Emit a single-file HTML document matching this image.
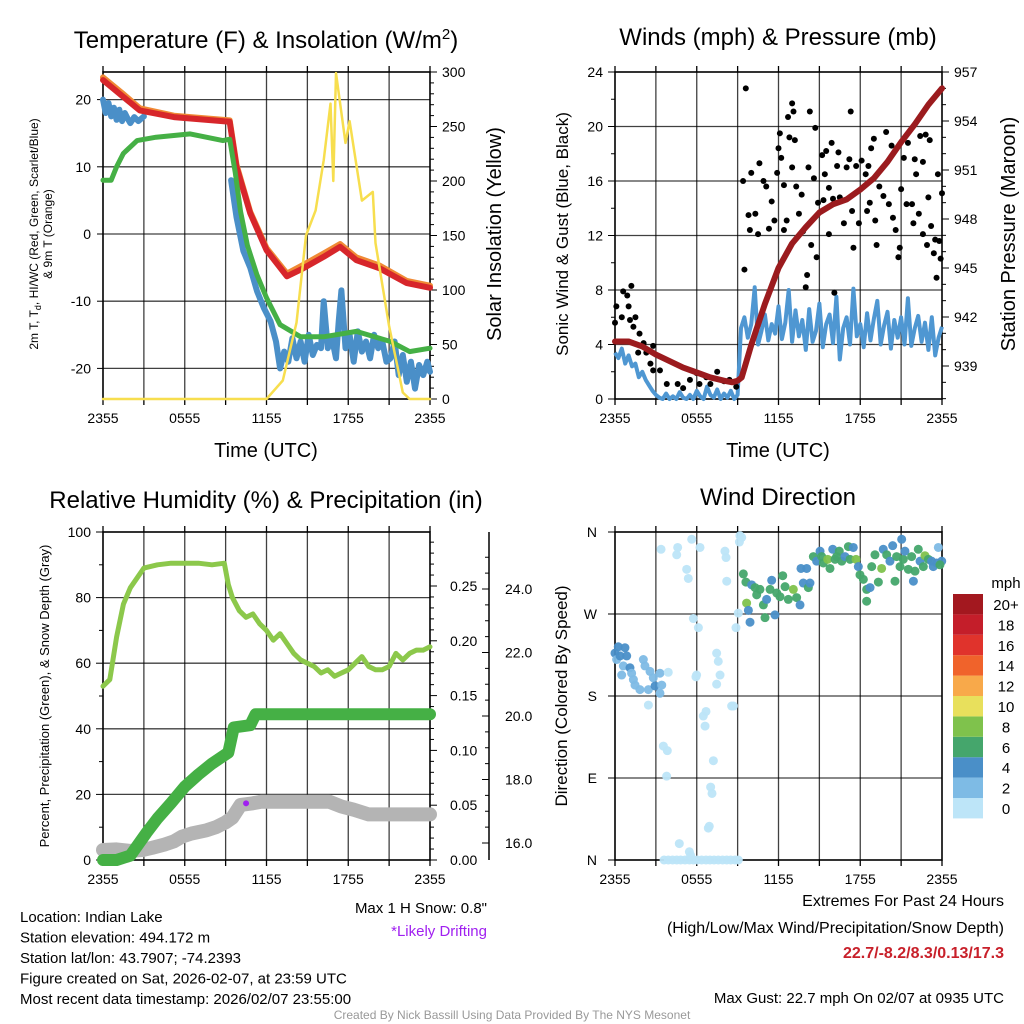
<!DOCTYPE html>
<html><head><meta charset="utf-8"><style>
body{margin:0;background:#fff;}
svg{display:block;font-family:"Liberation Sans",Arial,sans-serif;}
</style></head><body>
<svg id="c" width="1024" height="1024" viewBox="0 0 1024 1024" xmlns="http://www.w3.org/2000/svg"></svg>
<script>
// ---------- DATA ----------
const tempHours=[0,1.5,2.7,5.2,9.3,9.8,10.8,12,13.5,14.7,16.2,17.4,18.6,20.3,22.3,24];
const tempRed=[22.9,20.4,18.4,17.4,16.7,10,3.1,-2.4,-6.3,-5.1,-3.4,-1.9,-3.9,-5.1,-7.3,-8];
const tempOrange=[23.3,20.8,18.7,17.6,16.9,10.3,3.3,-2.1,-5.9,-4.6,-2.9,-1.5,-3.5,-4.7,-7,-7.7];
const dewHours=[0,0.6,1.0,1.5,2.5,3.9,6.4,8.8,9.3,9.7,10.1,10.6,11.3,12,13,14.5,16.2,18.6,21.1,22.5,24];
const dewGreen=[8,8,10,12,13.9,14.4,14.9,13.9,14.1,9.2,3.3,-1.7,-6.1,-9.5,-13.5,-15.3,-15.3,-14.5,-16,-17.5,-17];
const wcHoursA=[0,0.2,0.4,0.6,0.8,1.0,1.2,1.4,1.6,1.8,2.0,2.3,2.6,3.0];
const wcBlueA=[20,18,19.5,17.5,18.8,17,18.5,16.8,18,17.2,16.5,17.4,16.8,17.5];
const wcHoursB=[9.4,9.8,10.3,10.8,11.3,11.8,12.3,12.7,13,13.3,13.6,13.9,14.2,14.5,14.8,15.1,15.4,15.7,16,16.2,16.5,16.8,17.1,17.3,17.5,17.8,18.1,18.4,18.7,19,19.3,19.6,19.9,20.2,20.5,20.8,21.1,21.4,21.7,22,22.3,22.6,22.9,23.2,23.5,23.8,24];
const wcBlueB=[8,2.5,-2.5,-5,-8.5,-11,-13,-16,-20,-17.5,-19,-15.5,-18.5,-16,-19,-15,-18,-16.5,-17,-10,-17,-15.5,-18.5,-13,-8.4,-17,-15,-19,-14.5,-17.5,-16,-18.5,-15,-17,-16,-19,-18.5,-16,-21,-18,-22,-19,-23,-19.5,-21,-19,-20.5];
const solHours=[0,12,13.2,14.2,14.9,15.6,16.2,16.7,16.9,17.1,17.8,18.1,19,19.8,20,21,22,22.5,24];
const solar=[0,0,17,70,150,173,219,271,200,299,235,255,182,190,143,67,6,0,0];

const sonic=[3.4,3.0,3.7,2.6,3.2,2.4,2.6,1.6,2.0,1.4,1.0,0.6,0.3,
0.1,0,0.4,0,0.2,0,0.5,0.1,0,0.3,0,0.6,0.2,0,0.9,0.3,0.1,0.7,0,0.4,0.1,0.6,0,0.3,
5.2,6.0,4.5,5.5,8.2,4.0,5.0,6.2,4.3,5.5,4.8,6.8,4.4,5.6,8.0,4.2,6.5,4.6,5.8,3.6,6.6,4.2,5.0,7.0,3.8,5.5,6.2,4.1,7.5,2.9,5.2,6.0,4.0,8.1,4.6,5.5,3.8,6.3,4.3,5.9,7.2,4.0,5.4,6.4,3.7,5.8,4.5,6.0,4.0,7.4,3.9,5.2,6.1,4.2,5.6,3.6,6.0,3.2,4.5,5.3];
const gustHours=[0,0.1,0.5,0.6,0.9,1.2,1.0,1.1,1.35,1.5,2.1,2.3,2.8,2.6,3.3,3.8,4.6,5.5,6.0,6.2,6.7,7.5,8.0,8.4,8.9,1.8,1.7,2.8,5.0,7.0,
9.6,9.5,9.4,9.8,9.9,10.0,10.3,10.5,10.6,10.9,11.1,11.3,11.5,11.7,11.9,12.0,12.1,12.2,12.4,12.4,12.6,12.7,12.8,13.0,13.0,13.1,13.2,13.3,13.5,13.7,13.8,14.0,14.1,14.2,14.3,14.4,14.6,14.7,14.8,14.9,15.2,15.3,15.4,15.5,15.7,15.7,15.9,16.0,16.1,16.3,16.4,16.5,16.8,17.0,17.2,17.3,17.4,17.5,17.7,17.9,18.1,18.4,18.5,18.6,18.7,18.8,19.0,19.1,19.2,19.4,19.7,19.9,20.1,20.3,20.4,20.6,20.8,20.9,21.0,21.2,21.4,21.5,21.8,21.9,22.0,22.1,22.3,22.4,22.6,22.6,22.8,22.9,23.0,23.1,23.2,23.4,23.5,23.6,23.7,23.8,23.9,24.0];
const gustValues=[5.6,6.8,6.0,7.9,7.6,8.3,6.8,5.8,5.3,6.0,4.1,3.4,3.9,2.6,2.1,1.1,1.1,1.4,1.9,1.1,1.6,2.0,1.3,1.4,0.9,4.8,3.4,2.1,0.8,1.1,
22.8,9.5,16.0,13.5,12.4,16.6,13.6,12.1,17.3,16.0,15.6,12.5,14.5,13.1,16.6,18.4,19.5,17.7,15.7,12.4,13.1,20.7,19.2,17.0,21.7,21.1,19.0,15.6,13.6,15.0,12.3,8.2,9.1,17.0,21.1,11.3,16.2,19.9,10.4,14.4,17.9,14.6,16.5,18.2,15.5,12.1,18.8,14.7,7.8,17.1,18.1,14.8,12.9,17.0,17.6,21.1,13.8,11.1,17.1,12.9,17.5,16.5,13.8,17.1,14.4,18.4,19.1,13.1,11.3,15.6,14.9,19.6,14.3,18.6,13.3,12.4,10.4,11.1,15.4,17.7,14.3,18.8,14.3,12.9,17.6,16.5,13.6,19.3,17.4,12.1,19.4,11.3,14.8,19.0,12.7,10.7,11.7,8.9,16.5,11.6,10.3,15.1];
const presHours=[0,1,2,3,4,5,6,7,8,8.6,9,9.3,10,11,12,13,14,15,16,17,18,19,20,21,22,23,24];
const pressure=[940.5,940.5,940.2,939.7,939.3,938.9,938.6,938.3,938.1,938,938.1,938.3,940.3,942.8,945,946.5,947.5,948.4,948.9,949.2,949.8,950.5,951.5,952.7,953.8,955,956];

const rhHours=[0,0.5,1,1.5,2,2.5,3,4,5,6,7,8,8.9,9.2,9.5,10,10.5,11,11.5,12,12.5,13,13.5,14,14.5,15,15.5,16,16.5,17,17.5,18,18.5,19,19.5,20,20.5,21,21.5,22,22.5,23,23.5,24];
const rh=[53,55,68,78,83,86,89,90,90.5,90.5,90.5,90,90.5,84,80,76,74,75,72,70,67,69,66,63,61,60,59,57,58,56,57,58,60,62,59,58,58,59,63,61,63,64,64,65];
const precipHours=[0,1,2,3.2,4,5,6,7,8,9.2,9.6,10.8,11.2,24];
const precip=[0,0,0.004,0.025,0.038,0.052,0.067,0.078,0.088,0.098,0.121,0.123,0.133,0.133];
const snowHours=[0,1,2,2.9,3.6,4.5,5.2,5.8,6.5,7.6,8.3,9,9.5,10.1,11,11.6,14,16.6,17.5,18.4,19.5,24];
const snow=[15.78,15.8,15.75,15.78,15.85,15.95,16.05,16.2,16.3,16.4,16.5,16.65,16.8,17.2,17.25,17.3,17.3,17.3,17.15,17.05,16.9,16.9];

const dirHours=[];const dirValues=[];const dirSpeeds=[];
const dirRaw=[[45,400,4],[50,420,3],[55,380,4],[60,410,4],[75,385,5],[80,410,4],[70,440,3],[90,445,4],[65,465,3],[95,460,3],[100,480,3],[105,495,3],[120,510,3],[130,420,3],[135,440,2],[145,510,2],[150,455,2],[160,475,3],[165,500,4],[180,460,2],[185,495,2],[205,458,1],[180,520,2],[145,555,1],
[183,88,1],[233,85,1],[230,105,1],[275,58,1],[300,85,1],[260,150,1],[265,178,1],[280,298,1],[295,325,1],[290,465,1],[288,472,1],[200,770,1],[190,680,1],[202,692,1],[310,590,1],[318,575,1],[315,620,1],[340,722,1],[332,802,1],[336,820,1],[328,920,1],[325,925,1],[238,972,1],[268,995,1],[350,400,1],[355,425,1],[360,467,1],[350,493,1],[375,96,1],[378,113,1],[380,186,1],[395,558,1],[400,560,1],[408,324,1],[415,280,1],[420,48,1],[425,55,1],[418,68,1],
[192,1020,1],[205,1020,1],[218,1020,1],[230,1020,1],[242,1020,1],[255,1020,1],[268,1020,1],[280,1020,1],[292,1020,1],[305,1020,1],[318,1020,1],[330,1020,1],[342,1020,1],[355,1020,1],[368,1020,1],[380,1020,1],[392,1020,1],[405,1020,1],[415,1020,1],[272,1005,1],
[430,163,6],[438,188,6],[440,250,8],[445,272,4],[450,307,4],[455,195,5],[465,205,6],[470,225,6],[480,210,6],[490,255,6],[495,295,6],[500,240,4],[510,210,6],[515,183,4],[525,285,4],[530,220,6],[540,230,6],[548,168,6],[555,200,6],[565,240,6],[580,210,8],[590,235,6],[600,255,4],[603,147,4],[620,147,4],[610,190,4],[625,205,6],[630,190,4],[640,110,6],[650,125,4],[660,95,4],[665,110,6],[670,130,6],[683,118,8],[690,148,6],[698,88,4],[705,120,6],[710,110,6],[718,95,6],[725,125,6],[735,110,4],[745,80,6],[750,120,6],[760,85,4],[768,118,8],[775,140,4],[780,165,6],[790,180,6],[800,210,6],[810,205,4],[800,245,6],[815,140,6],[825,105,6],[835,188,6],[845,148,8],[850,90,4],[860,105,6],[870,125,4],[878,78,4],[885,185,6],[890,110,6],[900,140,6],[905,60,4],[910,120,6],[915,95,4],[925,150,6],[935,110,6],[940,185,4],[945,155,6],[955,88,6],[960,125,4],[970,140,6],[975,108,8],[985,120,6],[995,125,4],[1000,140,4],[1010,130,4],[1015,85,2],[1025,125,4],[1020,135,6]];
for(const r of dirRaw){dirHours.push(+((r[0]/3-15)/13.625).toFixed(2));dirValues.push(Math.round((340-r[1]/3)*1.0992));dirSpeeds.push(r[2]);}

const timeTicks=["2355","0555","1155","1755","2355"];
const speedBins=["0","2","4","6","8","10","12","14","16","18","20+"];
const binColors=["#bde5f8","#7ebbe5","#4a8fc8","#45a66c","#7fc24c","#e8e05c","#f8a94a","#f0632b","#e0332c","#c41e2a","#a3181f"];

// ---------- HELPERS ----------
const NS="http://www.w3.org/2000/svg";const svg=document.getElementById('c');
function el(tag,attrs,parent){const e=document.createElementNS(NS,tag);for(const k in attrs)e.setAttribute(k,attrs[k]);(parent||svg).appendChild(e);return e;}
function txt(s,x,y,size,anchor,parent,extra){const t=el('text',Object.assign({x:x,y:y,'font-size':size,'text-anchor':anchor||'middle',fill:'#000'},extra||{}),parent);t.textContent=s;return t;}
function scale(d0,d1,r0,r1){return v=>r0+(v-d0)/(d1-d0)*(r1-r0);}
function pathFrom(xs,ys,fx,fy){let d='';for(let i=0;i<xs.length;i++){if(ys[i]==null)continue;d+=(d?'L':'M')+fx(xs[i]).toFixed(1)+','+fy(ys[i]).toFixed(1);}return d;}
function frame(g,x0,x1,y0,y1,fx,hGridVals,fy){
  for(let h=3;h<24;h+=3){const l=el('line',{x1:fx(h),x2:fx(h),y1:y0,y2:y1,stroke:'#000','stroke-width':1.3,'stroke-opacity':0.75},g);}
  for(const v of hGridVals){const l=el('line',{x1:x0,x2:x1,y1:fy(v),y2:fy(v),stroke:'#000','stroke-width':1.3,'stroke-opacity':0.75},g);}
  el('rect',{x:x0,y:y0,width:x1-x0,height:y1-y0,fill:'none',stroke:'#000','stroke-width':1.6},g);
  for(let h=0;h<=24;h+=3){el('line',{x1:fx(h),x2:fx(h),y1:y1,y2:y1+6,stroke:'#000','stroke-width':1.3},g);el('line',{x1:fx(h),x2:fx(h),y1:y0,y2:y0-6,stroke:'#000','stroke-width':1.3},g);}
  timeTicks.forEach((s,i)=>{const t=txt(s,fx(i*6),y1+24,14,'middle',g);});
}
function grp(name){const g=el('g',{});return g;}

// ---------- PANEL 1 ----------
(function(){
const g=grp('temperature-panel');
const x0=103,x1=430,y0=72,y1=399;
const fx=scale(0,24,x0,x1),fy=scale(0,20,234,99.6),fs=scale(0,300,399,72);
frame(g,x0,x1,y0,y1,fx,[20,10,0,-10,-20],fy);
for(const v of [20,10,0,-10,-20]){el('line',{x1:x0-6,x2:x0,y1:fy(v),y2:fy(v),stroke:'#000'},g);const t=txt(String(v),x0-12,fy(v)+5,14,'end',g);}
for(let v=0;v<=300;v+=10){const big=v%50==0;el('line',{x1:x1,x2:x1+(big?7:4),y1:fs(v),y2:fs(v),stroke:'#000'},g);if(big){const t=txt(String(v),x1+12,fs(v)+5,14,'start',g);}}
const p=[['wind-chill-line-a',wcHoursA,wcBlueA,'#4a8fc8',6],['wind-chill-line-b',wcHoursB,wcBlueB,'#4a8fc8',6],['temp-9m-line',tempHours,tempOrange,'#f08a35',6],['temp-2m-line',tempHours,tempRed,'#d7262b',6],['dewpoint-line',dewHours,dewGreen,'#45b045',5],['insolation-line',solHours,solar,'#f7de4e',2.5]];
for(const s of p){const f=s[0]=='insolation-line'?fs:fy;const e=el('path',{d:pathFrom(s[1],s[2],fx,f),fill:'none',stroke:s[3],'stroke-width':s[4],'stroke-linejoin':'round','stroke-linecap':'round'},g);}
const t1=el('text',{x:266,y:48,'font-size':24,'text-anchor':'middle'},g);t1.innerHTML='Temperature (F) &amp; Insolation (W/m<tspan dy="-9" font-size="15">2</tspan><tspan dy="9">)</tspan>';
const xl=txt('Time (UTC)',266,457,20,'middle',g);
const yl=el('text',{transform:'translate(38,234) rotate(-90)','font-size':12,'text-anchor':'middle'},g);yl.innerHTML='2m T, T<tspan dy="3" font-size="9">d</tspan><tspan dy="-3">, HI/WC (Red, Green, Scarlet/Blue)</tspan>';
const yl2=el('text',{transform:'translate(52,234) rotate(-90)','font-size':12,'text-anchor':'middle'},g);yl2.textContent='& 9m T (Orange)';
const yr=el('text',{transform:'translate(501,234) rotate(-90)','font-size':20,'text-anchor':'middle'},g);yr.textContent='Solar Insolation (Yellow)';
})();

// ---------- PANEL 2 ----------
(function(){
const g=grp('winds-panel');
const x0=615,x1=942,y0=72,y1=399;
const fx=scale(0,24,x0,x1),fy=scale(0,24,399,72),fp=scale(939,957,366,72);
frame(g,x0,x1,y0,y1,fx,[4,8,12,16,20],fy);
for(let v=0;v<=24;v+=2){const big=v%4==0;el('line',{x1:x0-(big?7:4),x2:x0,y1:fy(v),y2:fy(v),stroke:'#000'},g);if(big){const t=txt(String(v),x0-12,fy(v)+5,14,'end',g);}}
for(let v=937;v<=957;v++){const big=v%3==0;el('line',{x1:x1,x2:x1+(big?7:4),y1:fp(v),y2:fp(v),stroke:'#000'},g);if(big){const t=txt(String(v),x1+12,fp(v)+5,14,'start',g);}}
const sh=sonic.map((v,i)=>i/4);
const sp=el('path',{d:pathFrom(sh,sonic,fx,fy),fill:'none',stroke:'#4f97d2','stroke-width':4,'stroke-linejoin':'round'},g);
for(let i=0;i<gustHours.length;i++){const c=el('circle',{cx:fx(gustHours[i]),cy:fy(gustValues[i]),r:3,fill:'#000'},g);}
const pp=el('path',{d:pathFrom(presHours,pressure,fx,fp),fill:'none',stroke:'#9b1b1e','stroke-width':6,'stroke-linejoin':'round','stroke-linecap':'round'},g);
const t=txt('Winds (mph) & Pressure (mb)',778,45,24,'middle',g);
const xl=txt('Time (UTC)',778,457,20,'middle',g);
const yl=el('text',{transform:'translate(568,234) rotate(-90)','font-size':17,'text-anchor':'middle'},g);yl.textContent='Sonic Wind & Gust (Blue, Black)';
const yr=el('text',{transform:'translate(1015,234) rotate(-90)','font-size':20,'text-anchor':'middle'},g);yr.textContent='Station Pressure (Maroon)';
})();

// ---------- PANEL 3 ----------
(function(){
const g=grp('humidity-panel');
const x0=103,x1=430,y0=532,y1=860;
const fx=scale(0,24,x0,x1),fy=scale(0,100,860,532),fpr=scale(0,0.25,860,586),fsn=scale(16,24,843,589);
frame(g,x0,x1,y0,y1,fx,[20,40,60,80],fy);
for(let v=0;v<=100;v+=10){const big=v%20==0;el('line',{x1:x0-(big?7:4),x2:x0,y1:fy(v),y2:fy(v),stroke:'#000'},g);if(big){const t=txt(String(v),x0-12,fy(v)+5,14,'end',g);}}
for(let k=0;k<=29;k++){const v=k*0.01;const big=k%5==0;if(fpr(v)<y0)continue;el('line',{x1:x1,x2:x1+(big?7:4),y1:fpr(v),y2:fpr(v),stroke:'#000'},g);if(big){const t=txt(v.toFixed(2),x1+20,fpr(v)+5,14,'start',g);}}
el('line',{x1:489,x2:489,y1:y0,y2:y1,stroke:'#000','stroke-width':1.5},g);
for(let k=0;k<=20;k++){const v=15.6+k*0.4;if(fsn(v)<y0||fsn(v)>y1)continue;}
for(let v=16;v<=25;v+=0.5){if(fsn(v)<y0)continue;const big=v%2==0;el('line',{x1:489-(big?7:4),x2:489,y1:fsn(v),y2:fsn(v),stroke:'#000'},g);if(big){const t=txt(v.toFixed(1),505,fsn(v)+5,14,'start',g);}}
const s1=el('path',{d:pathFrom(snowHours,snow,fx,fsn),fill:'none',stroke:'#b4b4b4','stroke-width':14,'stroke-linejoin':'round','stroke-linecap':'round'},g);
const pr=el('path',{d:pathFrom(precipHours,precip,fx,fpr),fill:'none',stroke:'#45b045','stroke-width':12,'stroke-linejoin':'round','stroke-linecap':'round'},g);
const r=el('path',{d:pathFrom(rhHours,rh,fx,fy),fill:'none',stroke:'#8cc84b','stroke-width':5,'stroke-linejoin':'round','stroke-linecap':'round'},g);
const pu=el('circle',{cx:fx(10.5),cy:fsn(17.25),r:3,fill:'#a020f0'},g);
const t=txt('Relative Humidity (%) & Precipitation (in)',266,508,24,'middle',g);
const yl=el('text',{transform:'translate(49,696) rotate(-90)','font-size':13,'text-anchor':'middle'},g);yl.textContent='Percent, Precipitation (Green), & Snow Depth (Gray)';
})();

// ---------- PANEL 4 ----------
(function(){
const g=grp('wind-direction-panel');
const x0=615,x1=942,y0=532,y1=860;
const fx=scale(0,24,x0,x1),fy=scale(0,360,860,532);
frame(g,x0,x1,y0,y1,fx,[90,180,270],fy);
["N","E","S","W","N"].forEach((s,i)=>{el('line',{x1:x0-7,x2:x0,y1:fy(i*90),y2:fy(i*90),stroke:'#000'},g);const t=txt(s,x0-18,fy(i*90)+5,14,'end',g);});
for(let i=0;i<dirHours.length;i++){const b=Math.min(10,Math.floor(dirSpeeds[i]/2));const c=el('circle',{cx:fx(dirHours[i]),cy:fy(dirValues[i]),r:4.5,fill:binColors[b],'fill-opacity':0.95},g);}
const t=txt('Wind Direction',778,505,24,'middle',g);
const yl=el('text',{transform:'translate(567,696) rotate(-90)','font-size':17,'text-anchor':'middle'},g);yl.textContent='Direction (Colored By Speed)';
const lg=grp('speed-colorbar');g.appendChild(lg);
const mt=txt('mph',1006,588,15,'middle',lg);
speedBins.forEach((s,i)=>{const y=594+(10-i)*20.4;const r=el('rect',{x:953,y:y,width:30,height:20.4,fill:binColors[i]},lg);const t=txt(s,1006,y+16,15,'middle',lg);});
})();

// ---------- FOOTER TEXT ----------
const info=["Location: Indian Lake","Station elevation: 494.172 m","Station lat/lon: 43.7907; -74.2393","Figure created on Sat, 2026-02-07, at 23:59 UTC","Most recent data timestamp: 2026/02/07 23:55:00"];
info.forEach((s,i)=>{const t=txt(s,20,922+i*20.5,15,'start');});
let t;
t=txt('Max 1 H Snow: 0.8"',487,913,15,'end');
t=txt('*Likely Drifting',487,936,15,'end',null,{fill:'#a020f0'});
t=txt('Extremes For Past 24 Hours',1004,906,16,'end');
t=txt('(High/Low/Max Wind/Precipitation/Snow Depth)',1004,933,16,'end');
t=txt('22.7/-8.2/8.3/0.13/17.3',1004,958,16,'end',null,{fill:'#c8202a','font-weight':'bold'});
t=txt('Max Gust: 22.7 mph On 02/07 at 0935 UTC',1004,1003,15,'end');
t=txt('Created By Nick Bassill Using Data Provided By The NYS Mesonet',512,1019,12,'middle',null,{fill:'#999'});
</script>
</body></html>
